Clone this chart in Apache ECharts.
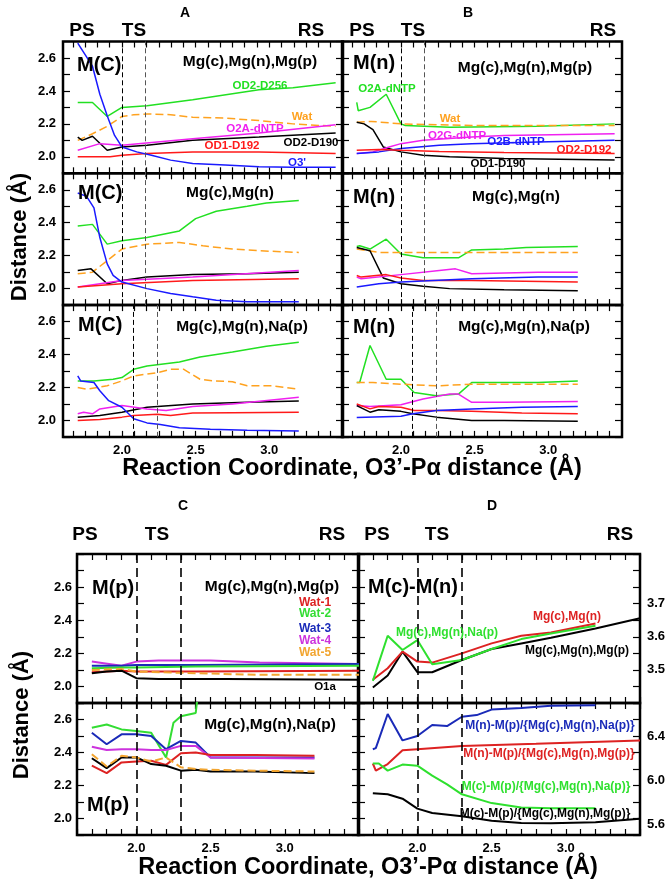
<!DOCTYPE html>
<html><head><meta charset="utf-8">
<script src="https://cdn.jsdelivr.net/npm/echarts@6/dist/echarts.min.js"></script>
<style>html,body{margin:0;padding:0;background:#fff}#c{width:672px;height:892px}</style>
</head><body><div id="c"></div>
<script>
// ---------------- DATA ----------------
// Panel A (M(C)) — Mg(c),Mg(n),Mg(p)
const A1_O3   = [[1.7,2.69],[1.75,2.62],[1.8,2.55],[1.85,2.38],[1.9,2.25],[1.95,2.13],[2.0,2.06],[2.1,2.03],[2.2,2.01],[2.33,1.98],[2.48,1.96],[2.7,1.95],[2.93,1.94],[3.16,1.936],[3.45,1.936]];
const A1_D256 = [[1.7,2.33],[1.8,2.33],[1.9,2.245],[2.0,2.30],[2.17,2.31],[2.48,2.346],[2.93,2.407],[3.16,2.42],[3.45,2.45]];
const A1_Wat  = [[1.7,2.10],[1.8,2.14],[1.9,2.185],[2.0,2.245],[2.08,2.255],[2.17,2.26],[2.33,2.256],[2.48,2.24],[2.7,2.235],[2.93,2.22],[3.16,2.2],[3.45,2.185]];
const A1_D190 = [[1.7,2.12],[1.73,2.10],[1.8,2.125],[1.9,2.04],[2.0,2.06],[2.17,2.07],[2.48,2.10],[2.93,2.12],[3.45,2.145]];
const A1_O2A  = [[1.7,2.04],[1.85,2.08],[2.0,2.07],[2.48,2.11],[2.93,2.145],[3.45,2.195]];
const A1_D192 = [[1.7,2.0],[1.92,2.0],[2.0,2.01],[2.17,2.02],[2.48,2.03],[2.93,2.03],[3.45,2.02]];
// Mg(c),Mg(n)
const A2_O3   = [[1.7,2.58],[1.76,2.56],[1.81,2.49],[1.85,2.31],[1.9,2.15],[1.94,2.08],[2.0,2.04],[2.17,2.0],[2.33,1.97],[2.48,1.95],[2.64,1.93],[2.85,1.92],[3.2,1.92]];
const A2_D256 = [[1.7,2.38],[1.8,2.39],[1.9,2.27],[2.0,2.29],[2.17,2.31],[2.39,2.35],[2.5,2.425],[2.64,2.47],[2.85,2.50],[2.98,2.52],[3.2,2.535]];
const A2_Wat  = [[1.7,2.09],[1.8,2.10],[1.9,2.17],[2.0,2.24],[2.17,2.27],[2.39,2.28],[2.55,2.26],[2.75,2.24],[2.93,2.23],[3.2,2.22]];
const A2_D190 = [[1.7,2.11],[1.79,2.12],[1.9,2.03],[2.0,2.05],[2.17,2.07],[2.48,2.085],[2.85,2.09],[3.2,2.10]];
const A2_O2A  = [[1.7,2.01],[2.0,2.05],[2.48,2.07],[3.2,2.11]];
const A2_D192 = [[1.7,2.01],[2.0,2.03],[2.48,2.05],[3.2,2.06]];
// Mg(c),Mg(n),Na(p)
const A3_D256 = [[1.7,2.24],[1.81,2.24],[1.94,2.25],[2.0,2.26],[2.08,2.31],[2.17,2.33],[2.39,2.355],[2.53,2.385],[2.75,2.415],[2.98,2.45],[3.2,2.475]];
const A3_O3   = [[1.7,2.27],[1.72,2.24],[1.81,2.23],[1.85,2.18],[1.91,2.12],[2.0,2.08],[2.08,2.01],[2.17,1.985],[2.26,1.975],[2.39,1.955],[2.6,1.946],[2.85,1.94],[3.2,1.936]];
const A3_Wat  = [[1.7,2.20],[1.76,2.19],[1.9,2.21],[2.0,2.24],[2.08,2.27],[2.24,2.29],[2.33,2.31],[2.42,2.31],[2.53,2.25],[2.62,2.24],[2.75,2.235],[2.85,2.21],[3.02,2.21],[3.2,2.19]];
const A3_O2A  = [[1.7,2.04],[1.74,2.05],[1.8,2.04],[1.85,2.07],[2.0,2.09],[2.17,2.07],[2.3,2.06],[2.48,2.085],[2.75,2.10],[3.2,2.14]];
const A3_D190 = [[1.7,2.02],[1.85,2.03],[2.0,2.05],[2.17,2.08],[2.48,2.10],[2.85,2.11],[3.2,2.118]];
const A3_D192 = [[1.7,2.0],[1.85,2.005],[2.0,2.02],[2.08,2.03],[2.24,2.037],[2.33,2.03],[2.48,2.045],[2.75,2.047],[3.2,2.05]];

// Panel B (M(n))
const B1_O2A  = [[1.7,2.33],[1.71,2.28],[1.79,2.30],[1.9,2.38],[2.0,2.20],[2.03,2.19],[2.33,2.18],[2.93,2.185],[3.45,2.20]];
const B1_Wat  = [[1.7,2.21],[1.8,2.215],[2.0,2.2],[2.48,2.19],[3.45,2.19]];
const B1_D190 = [[1.7,2.21],[1.75,2.20],[1.81,2.165],[1.88,2.06],[2.0,2.03],[2.15,2.01],[2.33,2.0],[2.7,1.99],[3.45,1.98]];
const B1_O2G  = [[1.7,2.02],[1.81,2.03],[1.92,2.06],[2.0,2.08],[2.15,2.1],[2.48,2.12],[2.7,2.13],[3.45,2.14]];
const B1_O2B  = [[1.7,2.02],[1.85,2.03],[2.0,2.05],[2.26,2.07],[2.48,2.08],[2.93,2.09],[3.45,2.10]];
const B1_D192 = [[1.7,2.04],[1.85,2.045],[2.0,2.04],[2.26,2.033],[2.7,2.027],[3.45,2.02]];

const B2_O2A  = [[1.7,2.256],[1.72,2.26],[1.79,2.24],[1.9,2.30],[2.0,2.21],[2.15,2.187],[2.39,2.187],[2.48,2.235],[2.7,2.24],[2.85,2.25],[3.2,2.256]];
const B2_Wat  = [[1.7,2.24],[1.85,2.22],[2.0,2.22],[3.2,2.22]];
const B2_D190 = [[1.7,2.25],[1.79,2.23],[1.88,2.065],[2.0,2.03],[2.15,2.014],[2.33,2.0],[2.7,1.993],[3.2,1.987]];
const B2_O2G  = [[1.7,2.07],[1.73,2.06],[2.0,2.085],[2.26,2.11],[2.37,2.12],[2.48,2.09],[2.93,2.10],[3.2,2.10]];
const B2_D192 = [[1.7,2.08],[1.73,2.07],[1.9,2.085],[2.0,2.065],[2.15,2.05],[2.48,2.05],[3.2,2.04]];
const B2_O2B  = [[1.7,2.01],[1.85,2.03],[2.0,2.04],[2.48,2.06],[2.93,2.07],[3.2,2.07]];

const B3_O2A  = [[1.7,2.23],[1.72,2.23],[1.79,2.455],[1.9,2.25],[2.0,2.25],[2.09,2.17],[2.24,2.15],[2.39,2.16],[2.48,2.23],[2.93,2.23],[3.2,2.24]];
const B3_Wat  = [[1.7,2.23],[1.81,2.23],[2.0,2.22],[2.24,2.21],[2.48,2.22],[3.2,2.22]];
const B3_O2G  = [[1.7,2.09],[1.79,2.085],[2.0,2.095],[2.15,2.13],[2.33,2.16],[2.39,2.16],[2.48,2.11],[2.7,2.11],[3.2,2.115]];
const B3_D192 = [[1.7,2.1],[1.79,2.07],[1.85,2.085],[2.0,2.08],[2.09,2.06],[2.24,2.06],[2.48,2.055],[2.82,2.045],[3.2,2.04]];
const B3_D190 = [[1.7,2.09],[1.79,2.05],[1.85,2.065],[2.0,2.055],[2.08,2.04],[2.24,2.02],[2.48,2.0],[2.7,2.0],[3.2,1.995]];
const B3_O2B  = [[1.7,2.017],[2.0,2.025],[2.08,2.04],[2.24,2.06],[2.48,2.07],[2.82,2.08],[3.2,2.085]];

// Panel C (M(p))
const C1_W4  = [[1.7,2.15],[1.78,2.14],[1.9,2.125],[2.0,2.15],[2.15,2.156],[2.5,2.156],[2.83,2.145],[3.5,2.135]];
const C1_W3  = [[1.7,2.125],[1.9,2.125],[2.0,2.13],[2.4,2.13],[3.5,2.135]];
const C1_W2  = [[1.7,2.11],[1.9,2.115],[2.0,2.115],[2.4,2.12],[3.5,2.125]];
const C1_W1  = [[1.7,2.085],[1.9,2.095],[2.0,2.09],[2.4,2.09],[3.5,2.095]];
const C1_W5  = [[1.7,2.10],[1.9,2.105],[2.0,2.09],[2.4,2.08],[2.83,2.07],[3.5,2.07]];
const C1_O1a = [[1.7,2.08],[1.8,2.09],[1.9,2.095],[2.0,2.05],[2.15,2.045],[2.6,2.045],[3.5,2.04]];

const C2_W2  = [[1.7,2.55],[1.8,2.57],[1.9,2.54],[2.0,2.53],[2.1,2.52],[2.2,2.37],[2.25,2.58],[2.3,2.62],[2.4,2.64],[2.42,2.8]];
const C2_W3  = [[1.7,2.52],[1.8,2.45],[1.9,2.51],[2.0,2.51],[2.1,2.50],[2.2,2.42],[2.3,2.47],[2.4,2.46],[2.5,2.37],[3.2,2.37]];
const C2_W4  = [[1.7,2.435],[1.8,2.415],[1.9,2.42],[2.0,2.42],[2.1,2.415],[2.2,2.415],[2.3,2.44],[2.4,2.44],[2.5,2.37],[3.2,2.364]];
const C2_W1  = [[1.7,2.32],[1.8,2.275],[1.9,2.34],[2.0,2.345],[2.1,2.35],[2.2,2.325],[2.3,2.395],[2.4,2.40],[2.5,2.385],[2.8,2.385],[3.2,2.38]];
const C2_O1a = [[1.7,2.365],[1.8,2.305],[1.9,2.37],[2.0,2.37],[2.1,2.33],[2.2,2.32],[2.3,2.29],[2.4,2.295],[2.5,2.285],[2.8,2.285],[3.2,2.275]];
const C2_W5  = [[1.7,2.39],[1.8,2.315],[1.9,2.38],[2.0,2.37],[2.1,2.345],[2.2,2.37],[2.3,2.31],[2.4,2.30],[2.5,2.295],[2.8,2.29],[3.2,2.285]];

// Panel D (M(c)-M(n) and M-M(p) distances)
const D1_MgMgMg = [[1.7,3.447],[1.8,3.483],[1.9,3.555],[2.0,3.493],[2.1,3.493],[2.3,3.53],[2.5,3.563],[2.7,3.58],[2.9,3.597],[3.2,3.625],[3.5,3.656]];
const D1_MgMg   = [[1.7,3.47],[1.8,3.505],[1.9,3.555],[2.0,3.525],[2.1,3.522],[2.3,3.55],[2.5,3.58],[2.7,3.603],[2.9,3.613],[3.2,3.64]];
const D1_MgMgNa = [[1.7,3.467],[1.8,3.603],[1.9,3.56],[2.0,3.59],[2.1,3.517],[2.3,3.53],[2.5,3.563],[2.7,3.593],[2.9,3.61],[3.2,3.633]];

const D2_NP_Na = [[1.7,6.28],[1.72,6.29],[1.8,6.6],[1.9,6.36],[2.0,6.40],[2.1,6.5],[2.2,6.49],[2.3,6.575],[2.4,6.59],[2.5,6.64],[2.7,6.655],[2.9,6.675],[3.2,6.68]];
const D2_NP_Mg = [[1.7,6.15],[1.72,6.085],[1.8,6.145],[1.9,6.27],[2.0,6.28],[2.3,6.31],[2.8,6.33],[3.5,6.36]];
const D2_CP_Na = [[1.7,6.15],[1.74,6.15],[1.8,6.085],[1.9,6.14],[2.0,6.13],[2.1,6.04],[2.2,5.96],[2.3,5.87],[2.5,5.79],[2.7,5.75],[2.9,5.743],[3.2,5.743]];
const D2_CP_Mg = [[1.7,5.88],[1.8,5.87],[1.9,5.83],[2.0,5.74],[2.1,5.70],[2.3,5.67],[2.5,5.63],[2.7,5.61],[2.9,5.607],[3.2,5.616],[3.5,5.647]];

// Tick labels
const X_LABELS = [2.0, 2.5, 3.0];
const Y_LABELS = [2.0, 2.2, 2.4, 2.6];
const D1_LABELS = [3.5, 3.6, 3.7];
const D2_LABELS = [5.6, 6.0, 6.4];
const TS_TOP = [2.0, 2.16];
const TS_TOP3 = [2.08, 2.24];
const TS_BOT = [2.0, 2.3];

// ---------------- BUILD ----------------
function range(a, step, n){ const r=[]; for(let i=0;i<=n;i++) r.push(+(a+i*step).toFixed(4)); return r; }
const X_TICKS_TOP = range(2.0-4/12, 1/12, 21);
const X_TICKS_BOT = range(1.6, 0.1, 19);
const Y_TICKS_8 = range(1.9, 0.1, 8);
const Y_TICKS_C1 = range(1.9, 0.1, 9);
const D1_TICKS = range(3.4, 0.05, 9);
const D2_TICKS = range(5.5, 0.15, 8);

const FONT = '"Liberation Sans", Arial, Helvetica, sans-serif';
const G = {green:'#22e022', orange:'#ffa21f', mag:'#f020f0', red:'#ff1a1a', blue:'#1a1aff', black:'#000'};
const G2 = {green:'#33dd33', orange:'#f2a530', mag:'#cc33dd', red:'#dd2222', blue:'#1a2ab8', black:'#000'};

const grids=[], xAxes=[], yAxes=[], series=[];
function addPanel(p){
  const gi = grids.length;
  grids.push({left:p.l, top:p.t, width:p.w, height:p.h, show:true, borderColor:'#000', borderWidth:2.5, backgroundColor:'transparent'});
  const tickStyle = {lineStyle:{color:'#000', width:1.2}};
  const labelStyle = {fontFamily:FONT, fontWeight:'bold', fontSize:13, color:'#000'};
  const xb = xAxes.length;
  xAxes.push({type:'value', gridIndex:gi, position:'bottom', min:p.xr[0], max:p.xr[1],
    axisLine:{show:false}, splitLine:{show:false},
    axisTick:Object.assign({show:true, inside:true, length:6, customValues:p.xt}, tickStyle),
    axisLabel:Object.assign({show:!!p.showX, customValues:X_LABELS, margin:7, formatter:v=>v.toFixed(1)}, labelStyle)});
  xAxes.push({type:'value', gridIndex:gi, position:'top', min:p.xr[0], max:p.xr[1],
    axisLine:{show:false}, splitLine:{show:false},
    axisTick:Object.assign({show:true, inside:true, length:6, customValues:p.xt}, tickStyle),
    axisLabel:{show:false}});
  const yl = yAxes.length;
  yAxes.push({type:'value', gridIndex:gi, position:'left', min:p.yr[0], max:p.yr[1],
    axisLine:{show:false}, splitLine:{show:false},
    axisTick:Object.assign({show:true, inside:true, length:7, customValues:p.yt}, tickStyle),
    axisLabel:Object.assign({show:p.ySide==='left', customValues:p.yl||[], margin:p.yMargin||7, formatter:v=>v.toFixed(1)}, labelStyle)});
  yAxes.push({type:'value', gridIndex:gi, position:'right', min:p.yr[0], max:p.yr[1],
    axisLine:{show:false}, splitLine:{show:false},
    axisTick:Object.assign({show:true, inside:true, length:7, customValues:p.yt}, tickStyle),
    axisLabel:Object.assign({show:p.ySide==='right', customValues:p.yl||[], margin:7, formatter:v=>v.toFixed(1)}, labelStyle)});
  p.lines.forEach((ln, i)=>{
    const s = {type:'line', xAxisIndex:xb, yAxisIndex:yl, data:ln.d, showSymbol:false, symbol:'none', clip:true,
      lineStyle:{color:ln.c, width:p.lw||1.5, type:ln.dash?[8,4]:'solid'}, z:ln.z||2, silent:true, animation:false};
    if(i===0){
      s.markLine = {silent:true, symbol:'none', label:{show:false}, animation:false,
        data:p.ts.map((v,k)=>({xAxis:v, lineStyle:{color:k===0?'#000':(p.ts2c||'#555'), width:p.tsw||1, type:p.tsd||[5,3]}}))};
    }
    series.push(s);
  });
}

// Top figure geometry
const AX = 63, BX = 342, PW = 280;
const R1 = 41.5, RH = 131.8;
const XR_T = [1.6, 3.5];
const YR = [1.9, 2.7];
const common = {xr:XR_T, xt:X_TICKS_TOP, yr:YR, yt:Y_TICKS_8};

addPanel(Object.assign({l:AX, t:R1, w:PW, h:RH, ySide:'left', yl:Y_LABELS, ts:TS_TOP, lines:[
  {d:A1_D256,c:G.green},{d:A1_Wat,c:G.orange,dash:1},{d:A1_D190,c:G.black},{d:A1_O2A,c:G.mag},{d:A1_D192,c:G.red},{d:A1_O3,c:G.blue}]}, common));
addPanel(Object.assign({l:AX, t:R1+RH, w:PW, h:RH, ySide:'left', yl:Y_LABELS, ts:TS_TOP, lines:[
  {d:A2_D256,c:G.green},{d:A2_Wat,c:G.orange,dash:1},{d:A2_D190,c:G.black},{d:A2_O2A,c:G.mag},{d:A2_D192,c:G.red},{d:A2_O3,c:G.blue}]}, common));
addPanel(Object.assign({l:AX, t:R1+2*RH, w:PW, h:RH, ySide:'left', yl:Y_LABELS, showX:true, ts:TS_TOP3, lines:[
  {d:A3_D256,c:G.green},{d:A3_Wat,c:G.orange,dash:1},{d:A3_D190,c:G.black},{d:A3_O2A,c:G.mag},{d:A3_D192,c:G.red},{d:A3_O3,c:G.blue}]}, common));
addPanel(Object.assign({l:BX, t:R1, w:PW, h:RH, ySide:'none', ts:TS_TOP, lines:[
  {d:B1_O2A,c:G.green},{d:B1_Wat,c:G.orange,dash:1},{d:B1_D190,c:G.black},{d:B1_O2G,c:G.mag},{d:B1_O2B,c:G.blue},{d:B1_D192,c:G.red}]}, common));
addPanel(Object.assign({l:BX, t:R1+RH, w:PW, h:RH, ySide:'none', ts:TS_TOP, lines:[
  {d:B2_O2A,c:G.green},{d:B2_Wat,c:G.orange,dash:1},{d:B2_D190,c:G.black},{d:B2_O2G,c:G.mag},{d:B2_D192,c:G.red},{d:B2_O2B,c:G.blue}]}, common));
addPanel(Object.assign({l:BX, t:R1+2*RH, w:PW, h:RH, ySide:'none', showX:true, ts:TS_TOP3, lines:[
  {d:B3_O2A,c:G.green},{d:B3_Wat,c:G.orange,dash:1},{d:B3_O2G,c:G.mag},{d:B3_D192,c:G.red},{d:B3_D190,c:G.black},{d:B3_O2B,c:G.blue}]}, common));

// Bottom figure geometry
const CX = 77, DX = 358, PW2 = 282;
const R2 = 554, RH2a = 149, RH2b = 132;
const XR_B = [1.6, 3.5];
const bot = {xr:XR_B, xt:X_TICKS_BOT, lw:2, tsw:1.6, tsd:[9,5], ts2c:'#000'};

addPanel(Object.assign({l:CX, t:R2, w:PW2, h:RH2a, yr:[1.9,2.8], yt:Y_TICKS_C1, ySide:'left', yl:Y_LABELS, yMargin:5, ts:TS_BOT, lines:[
  {d:C1_W4,c:G2.mag},{d:C1_W3,c:G2.blue},{d:C1_W2,c:G2.green},{d:C1_W1,c:G2.red},{d:C1_W5,c:G2.orange,dash:1},{d:C1_O1a,c:G2.black}]}, bot));
addPanel(Object.assign({l:CX, t:R2+RH2a, w:PW2, h:RH2b, yr:YR, yt:Y_TICKS_8, ySide:'left', yl:Y_LABELS, yMargin:5, showX:true, ts:TS_BOT, lines:[
  {d:C2_W2,c:G2.green},{d:C2_W3,c:G2.blue},{d:C2_W4,c:G2.mag},{d:C2_W1,c:G2.red},{d:C2_O1a,c:G2.black},{d:C2_W5,c:G2.orange,dash:1}]}, bot));
addPanel(Object.assign({l:DX, t:R2, w:PW2, h:RH2a, yr:[3.4,3.85], yt:D1_TICKS, ySide:'right', yl:D1_LABELS, ts:TS_BOT, lines:[
  {d:D1_MgMgMg,c:G2.black},{d:D1_MgMg,c:G2.red},{d:D1_MgMgNa,c:'#2ee02e'}]}, bot));
addPanel(Object.assign({l:DX, t:R2+RH2a, w:PW2, h:RH2b, yr:[5.5,6.7], yt:D2_TICKS, ySide:'right', yl:D2_LABELS, showX:true, ts:TS_BOT, lines:[
  {d:D2_NP_Na,c:G2.blue},{d:D2_NP_Mg,c:G2.red},{d:D2_CP_Na,c:'#2ee02e'},{d:D2_CP_Mg,c:G2.black}]}, bot));

// ---------------- TEXT ----------------
function T(text, x, y, size, color, align, rot){
  return {type:'text', x:x, y:y, rotation:rot||0, z:100, silent:true,
    style:{text:text, fill:color||'#000', font:'bold '+size+'px '+FONT, align:align||'center', verticalAlign:'middle'}};
}
const texts = [
  T('A',185,13,14), T('B',468,13,14),
  T('PS',82,31,19), T('TS',134,31,19), T('RS',311,31,19),
  T('PS',362,31,19), T('TS',413,31,19), T('RS',603,31,19),
  T('M(C)',77,65,20,'#000','left'), T('M(C)',78,193,20,'#000','left'), T('M(C)',78,325,20,'#000','left'),
  T('M(n)',353,63,20,'#000','left'), T('M(n)',353,197,20,'#000','left'), T('M(n)',353,327,20,'#000','left'),
  T('Mg(c),Mg(n),Mg(p)',250,62,15.5), T('Mg(c),Mg(n)',230,193,15.5), T('Mg(c),Mg(n),Na(p)',242,327,15.5),
  T('Mg(c),Mg(n),Mg(p)',525,68,15.5), T('Mg(c),Mg(n)',516,197,15.5), T('Mg(c),Mg(n),Na(p)',524,327,15.5),
  T('OD2-D256',260,86,11.5,G.green), T('Wat',302,117,11.5,G.orange), T('O2A-dNTP',255,129,11.5,G.mag),
  T('OD2-D190',311,143,11.5,'#000'), T('OD1-D192',232,146,11.5,G.red), T("O3'",297,163,11.5,G.blue),
  T('O2A-dNTP',387,89,11.5,G.green), T('Wat',450,119,11.5,G.orange), T('O2G-dNTP',457,136,11.5,G.mag),
  T('O2B-dNTP',516,142,11.5,G.blue), T('OD2-D192',584,150,11.5,G.red), T('OD1-D190',498,164,11.5,'#000'),
  T('Distance (Å)',20,237,22,'#000','center',Math.PI/2),
  T('Reaction Coordinate, O3\u2019-P\u03b1 distance (\u00c5)',352,469,23.5),
  // bottom figure
  T('C',183,506,14), T('D',492,506,14),
  T('PS',85,535,19), T('TS',157,535,19), T('RS',332,535,19),
  T('PS',377,535,19), T('TS',437,535,19), T('RS',620,535,19),
  T('M(p)',92,588,20,'#000','left'), T('Mg(c),Mg(n),Mg(p)',272,587,15.5),
  T('Wat-1',315,603,12,G2.red), T('Wat-2',315,614,12,G2.green), T('Wat-3',315,629,12,G2.blue),
  T('Wat-4',315,641,12,G2.mag), T('Wat-5',315,653,12,G2.orange), T('O1a',325,687,11.5,'#000'),
  T('Mg(c),Mg(n),Na(p)',270,725,15.5), T('M(p)',87,805,20,'#000','left'),
  T('M(c)-M(n)',368,587,20,'#000','left'),
  T('Mg(c),Mg(n)',567,617,12,G2.red), T('Mg(c),Mg(n),Na(p)',447,633,12,'#2ee02e'), T('Mg(c),Mg(n),Mg(p)',577,651,12,'#000'),
  T('M(n)-M(p)/{Mg(c),Mg(n),Na(p)}',550,726,12,G2.blue),
  T('M(n)-M(p)/{Mg(c),Mg(n),Mg(p)}',549,754,12,G2.red),
  T('M(c)-M(p)/{Mg(c),Mg(n),Na(p)}',546,787,12,'#2ee02e'),
  T('M(c)-M(p)/{Mg(c),Mg(n),Mg(p)}',545,814,12,'#000'),
  T('Distance (Å)',22,715,22,'#000','center',Math.PI/2),
  T('Reaction Coordinate, O3\u2019-P\u03b1 distance (\u00c5)',368,868,23.5)
];

const chart = echarts.init(document.getElementById('c'), null, {renderer:'canvas'});
chart.setOption({animation:false, backgroundColor:'#fff', grid:grids, xAxis:xAxes, yAxis:yAxes, series:series, graphic:texts});
</script></body></html>
